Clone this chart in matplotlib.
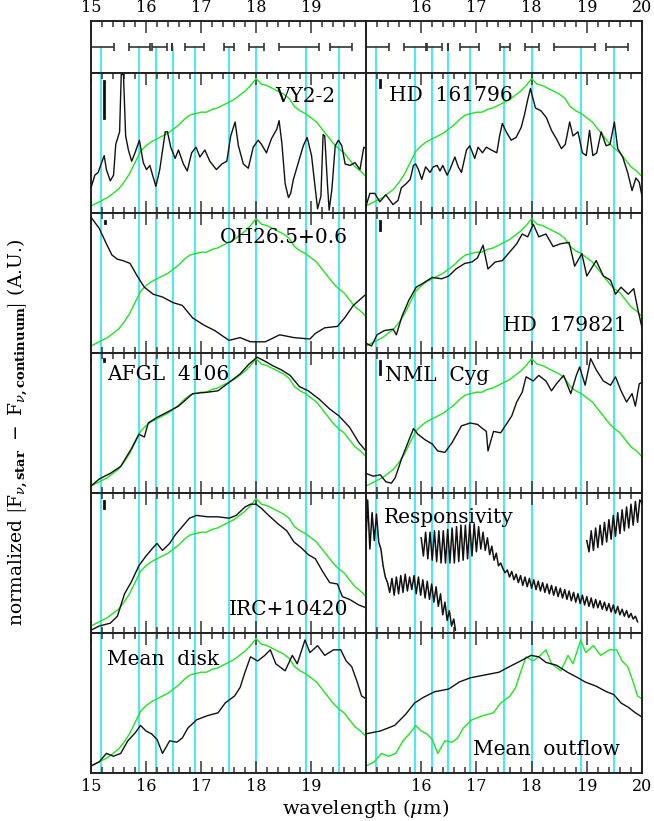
import matplotlib
matplotlib.use("Agg")
import matplotlib.pyplot as plt
import numpy as np

# --- feature positions (um) ---
FEATURE_WAVES = [15.18, 15.88, 16.19, 16.49, 16.89, 17.50, 18.00, 18.90, 19.50]
FEATURE_BANDS = [(14.98, 15.41), (15.69, 16.08), (16.10, 16.38), (16.48, 16.48),
                 (16.71, 17.05), (17.42, 17.60), (17.88, 18.14), (18.41, 19.15),
                 (19.34, 19.74)]

LEFT_TICKLABELS = ["15", "16", "17", "18", "19", ""]
RIGHT_TICKLABELS = ["", "16", "17", "18", "19", "20"]

# green comparison spectrum (same in most panels)
GREEN = [(15.0, 0.05), (15.1, 0.07), (15.2, 0.09), (15.3, 0.11), (15.4, 0.14),
         (15.5, 0.17), (15.6, 0.22), (15.7, 0.28), (15.8, 0.36), (15.9, 0.44),
         (16.0, 0.48), (16.1, 0.51), (16.2, 0.53), (16.3, 0.55), (16.4, 0.57),
         (16.5, 0.60), (16.6, 0.63), (16.7, 0.67), (16.8, 0.70), (16.9, 0.71),
         (17.0, 0.72), (17.1, 0.72), (17.2, 0.74), (17.3, 0.75), (17.4, 0.77),
         (17.5, 0.79), (17.6, 0.81), (17.7, 0.84), (17.8, 0.87), (17.9, 0.91),
         (18.0, 0.96), (18.1, 0.92), (18.2, 0.91), (18.3, 0.89), (18.4, 0.87),
         (18.5, 0.85), (18.6, 0.82), (18.7, 0.76), (18.8, 0.73), (18.9, 0.71),
         (19.0, 0.68), (19.1, 0.65), (19.2, 0.60), (19.3, 0.55), (19.4, 0.50),
         (19.5, 0.46), (19.6, 0.43), (19.7, 0.38), (19.8, 0.33), (19.9, 0.30),
         (20.0, 0.26)]

VY22 = [(15.00, 0.18), (15.07, 0.27), (15.13, 0.29), (15.24, 0.41), (15.28, 0.31),
        (15.35, 0.23), (15.41, 0.27), (15.45, 0.49), (15.52, 0.58), (15.55, 0.99),
        (15.59, 0.99), (15.63, 0.55), (15.68, 0.45), (15.74, 0.37), (15.80, 0.43),
        (15.88, 0.52), (15.95, 0.36), (16.01, 0.31), (16.07, 0.34), (16.12, 0.27),
        (16.18, 0.19), (16.25, 0.31), (16.35, 0.58), (16.39, 0.58), (16.45, 0.47),
        (16.53, 0.39), (16.59, 0.45), (16.68, 0.35), (16.75, 0.30), (16.83, 0.43),
        (16.91, 0.47), (16.98, 0.40), (17.07, 0.45), (17.16, 0.37), (17.28, 0.31),
        (17.38, 0.35), (17.47, 0.37), (17.54, 0.55), (17.62, 0.65), (17.68, 0.48),
        (17.77, 0.35), (17.86, 0.32), (17.95, 0.47), (18.04, 0.52), (18.10, 0.49),
        (18.19, 0.43), (18.28, 0.53), (18.38, 0.60), (18.42, 0.66), (18.47, 0.50),
        (18.53, 0.21), (18.59, 0.11), (18.63, 0.14), (18.68, 0.24), (18.77, 0.36),
        (18.86, 0.48), (18.93, 0.54), (19.01, 0.41), (19.07, 0.20), (19.12, 0.03),
        (19.18, 0.12), (19.22, 0.56), (19.25, 0.55), (19.30, 0.20), (19.33, 0.02),
        (19.38, 0.17), (19.44, 0.48), (19.50, 0.52), (19.56, 0.48), (19.62, 0.35),
        (19.71, 0.34), (19.80, 0.36), (19.89, 0.31), (19.96, 0.47), (20.00, 0.46)]

HD161796 = [(15.00, 0.05), (15.07, 0.14), (15.16, 0.14), (15.25, 0.08), (15.36, 0.13),
            (15.49, 0.06), (15.58, 0.09), (15.64, 0.18), (15.73, 0.21), (15.80, 0.24),
            (15.86, 0.34), (15.90, 0.35), (15.95, 0.31), (16.01, 0.24), (16.08, 0.33),
            (16.16, 0.29), (16.22, 0.33), (16.29, 0.34), (16.34, 0.30), (16.39, 0.34),
            (16.47, 0.27), (16.52, 0.31), (16.61, 0.40), (16.67, 0.33), (16.73, 0.29),
            (16.82, 0.45), (16.88, 0.48), (16.97, 0.39), (17.03, 0.47), (17.11, 0.43),
            (17.18, 0.47), (17.27, 0.45), (17.37, 0.43), (17.42, 0.55), (17.47, 0.64),
            (17.54, 0.58), (17.63, 0.52), (17.72, 0.54), (17.81, 0.61), (17.87, 0.70),
            (17.93, 0.81), (17.98, 0.89), (18.01, 0.84), (18.07, 0.75), (18.17, 0.73),
            (18.27, 0.68), (18.36, 0.59), (18.45, 0.53), (18.54, 0.46), (18.61, 0.49),
            (18.69, 0.65), (18.75, 0.55), (18.84, 0.58), (18.92, 0.43), (18.99, 0.41),
            (19.05, 0.59), (19.11, 0.41), (19.18, 0.43), (19.26, 0.58), (19.35, 0.48),
            (19.42, 0.49), (19.50, 0.65), (19.56, 0.46), (19.65, 0.40), (19.74, 0.29),
            (19.82, 0.16), (19.89, 0.25), (19.95, 0.22), (20.00, 0.12)]

OH265 = [(15.00, 0.97), (15.15, 0.89), (15.28, 0.78), (15.38, 0.70), (15.48, 0.67),
         (15.58, 0.66), (15.71, 0.64), (15.84, 0.55), (15.97, 0.47), (16.13, 0.42),
         (16.30, 0.40), (16.49, 0.36), (16.66, 0.34), (16.85, 0.25), (17.05, 0.20),
         (17.25, 0.16), (17.51, 0.09), (17.71, 0.11), (17.90, 0.08), (18.17, 0.08),
         (18.43, 0.13), (18.69, 0.11), (18.98, 0.10), (19.08, 0.14), (19.25, 0.18),
         (19.48, 0.19), (19.61, 0.25), (19.77, 0.34), (20.00, 0.42)]

HD179821 = [(15.00, 0.07), (15.10, 0.05), (15.20, 0.13), (15.33, 0.16), (15.49, 0.17),
            (15.55, 0.13), (15.65, 0.26), (15.78, 0.38), (15.91, 0.47), (16.04, 0.50),
            (16.20, 0.54), (16.37, 0.53), (16.50, 0.55), (16.63, 0.60), (16.79, 0.64),
            (16.92, 0.65), (17.02, 0.68), (17.12, 0.77), (17.21, 0.60), (17.34, 0.65),
            (17.47, 0.66), (17.60, 0.72), (17.73, 0.78), (17.83, 0.85), (17.93, 0.83),
            (18.03, 0.92), (18.13, 0.83), (18.26, 0.85), (18.39, 0.76), (18.52, 0.78),
            (18.68, 0.79), (18.78, 0.62), (18.91, 0.71), (19.00, 0.55), (19.17, 0.66),
            (19.30, 0.55), (19.43, 0.52), (19.52, 0.42), (19.62, 0.47), (19.75, 0.42),
            (19.85, 0.46), (19.92, 0.32), (20.00, 0.18)]

AFGL4106 = [(15.00, 0.05), (15.15, 0.10), (15.35, 0.14), (15.54, 0.19), (15.74, 0.32),
            (15.87, 0.42), (15.97, 0.40), (16.04, 0.50), (16.20, 0.54), (16.40, 0.58),
            (16.59, 0.62), (16.85, 0.71), (17.12, 0.72), (17.31, 0.73), (17.51, 0.79),
            (17.71, 0.85), (17.87, 0.92), (18.02, 0.97), (18.17, 0.94), (18.30, 0.91),
            (18.46, 0.88), (18.62, 0.84), (18.79, 0.76), (18.95, 0.73), (19.15, 0.67),
            (19.34, 0.60), (19.51, 0.55), (19.70, 0.47), (19.87, 0.36), (20.00, 0.30)]

NMLCYG = [(15.00, 0.14), (15.13, 0.12), (15.26, 0.13), (15.36, 0.08), (15.46, 0.07),
          (15.53, 0.11), (15.65, 0.25), (15.75, 0.35), (15.86, 0.46), (15.94, 0.42),
          (16.07, 0.38), (16.20, 0.35), (16.30, 0.30), (16.43, 0.29), (16.56, 0.36),
          (16.73, 0.48), (16.89, 0.50), (17.02, 0.49), (17.08, 0.47), (17.18, 0.44),
          (17.21, 0.30), (17.31, 0.44), (17.44, 0.43), (17.54, 0.49), (17.64, 0.55),
          (17.73, 0.65), (17.83, 0.72), (17.90, 0.83), (18.03, 0.80), (18.13, 0.84),
          (18.26, 0.80), (18.36, 0.73), (18.45, 0.78), (18.58, 0.84), (18.71, 0.71),
          (18.81, 0.84), (18.87, 0.90), (18.97, 0.77), (19.07, 0.96), (19.17, 0.88),
          (19.30, 0.80), (19.43, 0.77), (19.52, 0.83), (19.62, 0.73), (19.72, 0.65),
          (19.82, 0.71), (19.88, 0.62), (19.95, 0.78), (20.00, 0.79)]

IRC10420 = [(15.00, 0.02), (15.15, 0.05), (15.35, 0.07), (15.48, 0.12), (15.61, 0.28),
            (15.74, 0.37), (15.87, 0.48), (16.00, 0.55), (16.13, 0.61), (16.20, 0.64),
            (16.30, 0.59), (16.43, 0.64), (16.53, 0.70), (16.66, 0.76), (16.79, 0.82),
            (16.92, 0.84), (17.12, 0.83), (17.31, 0.83), (17.51, 0.82), (17.64, 0.84),
            (17.80, 0.90), (17.90, 0.92), (18.00, 0.92), (18.10, 0.89), (18.23, 0.84),
            (18.40, 0.78), (18.56, 0.73), (18.69, 0.65), (18.82, 0.61), (18.95, 0.56),
            (19.08, 0.53), (19.21, 0.44), (19.34, 0.36), (19.48, 0.35), (19.57, 0.26),
            (19.70, 0.24), (19.87, 0.20), (20.00, 0.18)]

MEAN_DISK = [(15.00, 0.05), (15.15, 0.08), (15.28, 0.14), (15.41, 0.12), (15.54, 0.14),
             (15.67, 0.23), (15.81, 0.29), (15.90, 0.34), (16.00, 0.30), (16.10, 0.28),
             (16.20, 0.24), (16.30, 0.14), (16.43, 0.23), (16.56, 0.22), (16.66, 0.25),
             (16.76, 0.32), (16.92, 0.38), (17.12, 0.41), (17.31, 0.43), (17.44, 0.50),
             (17.61, 0.55), (17.71, 0.61), (17.80, 0.72), (17.90, 0.83), (18.03, 0.80),
             (18.16, 0.84), (18.26, 0.88), (18.36, 0.78), (18.53, 0.73), (18.66, 0.84),
             (18.75, 0.78), (18.89, 0.95), (18.98, 0.86), (19.12, 0.91), (19.25, 0.84),
             (19.41, 0.88), (19.54, 0.88), (19.64, 0.80), (19.74, 0.76), (19.84, 0.65),
             (19.92, 0.55), (20.00, 0.53)]

MEAN_OUTFLOW = [(15.00, 0.28), (15.26, 0.30), (15.52, 0.34), (15.72, 0.42), (15.88, 0.50),
                (16.04, 0.54), (16.24, 0.58), (16.50, 0.60), (16.69, 0.65), (16.89, 0.68),
                (17.15, 0.70), (17.41, 0.72), (17.60, 0.76), (17.80, 0.80), (17.99, 0.84),
                (18.13, 0.83), (18.26, 0.79), (18.45, 0.77), (18.65, 0.72), (18.84, 0.68),
                (18.97, 0.65), (19.17, 0.62), (19.36, 0.58), (19.49, 0.56), (19.62, 0.50),
                (19.75, 0.47), (19.88, 0.43), (20.00, 0.40)]

# responsivity: three detector segments with fringes
RESP_A = [(15.00, 0.67), (15.03, 0.95), (15.07, 0.60), (15.11, 0.86), (15.15, 0.66),
          (15.19, 0.85), (15.23, 0.65), (15.27, 0.60), (15.31, 0.48), (15.35, 0.40),
          (15.39, 0.36), (15.43, 0.29), (15.47, 0.39), (15.51, 0.27), (15.55, 0.40),
          (15.59, 0.28), (15.63, 0.41), (15.67, 0.29), (15.71, 0.42), (15.75, 0.30),
          (15.79, 0.40), (15.83, 0.31), (15.87, 0.41), (15.91, 0.28), (15.95, 0.40),
          (15.99, 0.27), (16.03, 0.38), (16.07, 0.25), (16.11, 0.37), (16.15, 0.24),
          (16.19, 0.35), (16.23, 0.22), (16.27, 0.33), (16.31, 0.19), (16.35, 0.28),
          (16.39, 0.13), (16.43, 0.22), (16.47, 0.09), (16.51, 0.16), (16.55, 0.05),
          (16.59, 0.10), (16.62, 0.02)]

RESP_B = [(16.00, 0.68), (16.04, 0.55), (16.08, 0.72), (16.12, 0.53), (16.16, 0.72),
          (16.20, 0.52), (16.24, 0.73), (16.28, 0.51), (16.32, 0.73), (16.36, 0.50),
          (16.40, 0.73), (16.44, 0.50), (16.48, 0.74), (16.52, 0.50), (16.56, 0.75),
          (16.60, 0.50), (16.64, 0.76), (16.68, 0.51), (16.72, 0.77), (16.76, 0.52),
          (16.80, 0.77), (16.84, 0.53), (16.88, 0.78), (16.92, 0.55), (16.96, 0.78),
          (17.00, 0.58), (17.04, 0.76), (17.08, 0.60), (17.12, 0.72), (17.16, 0.59),
          (17.20, 0.68), (17.24, 0.56), (17.28, 0.62), (17.32, 0.52), (17.36, 0.57),
          (17.40, 0.48), (17.44, 0.50), (17.48, 0.46), (17.52, 0.43), (17.56, 0.45),
          (17.60, 0.40), (17.64, 0.44), (17.68, 0.38), (17.72, 0.42), (17.76, 0.36),
          (17.80, 0.41), (17.84, 0.34), (17.88, 0.40), (17.92, 0.33), (17.96, 0.39),
          (18.00, 0.32), (18.04, 0.38), (18.08, 0.31), (18.12, 0.37), (18.16, 0.30),
          (18.20, 0.36), (18.24, 0.29), (18.28, 0.35), (18.32, 0.28), (18.36, 0.34),
          (18.40, 0.27), (18.44, 0.33), (18.48, 0.26), (18.52, 0.32), (18.56, 0.25),
          (18.60, 0.31), (18.64, 0.24), (18.68, 0.30), (18.72, 0.23), (18.76, 0.29),
          (18.80, 0.22), (18.84, 0.28), (18.88, 0.21), (18.92, 0.27), (18.96, 0.20),
          (19.00, 0.26), (19.04, 0.19), (19.08, 0.25), (19.12, 0.18), (19.16, 0.24),
          (19.20, 0.18), (19.24, 0.23), (19.28, 0.17), (19.32, 0.22), (19.36, 0.16),
          (19.40, 0.21), (19.44, 0.15), (19.48, 0.20), (19.52, 0.14), (19.56, 0.19),
          (19.60, 0.13), (19.64, 0.17), (19.68, 0.12), (19.72, 0.16), (19.76, 0.11),
          (19.80, 0.14), (19.84, 0.10), (19.88, 0.12), (19.92, 0.08)]

RESP_C = [(19.00, 0.66), (19.04, 0.58), (19.08, 0.73), (19.12, 0.59), (19.16, 0.75),
          (19.20, 0.61), (19.24, 0.77), (19.28, 0.63), (19.32, 0.79), (19.36, 0.65),
          (19.40, 0.81), (19.44, 0.67), (19.48, 0.84), (19.52, 0.69), (19.56, 0.86),
          (19.60, 0.71), (19.64, 0.88), (19.68, 0.73), (19.72, 0.90), (19.76, 0.75),
          (19.80, 0.92), (19.84, 0.77), (19.88, 0.94), (19.92, 0.79), (19.96, 0.95),
          (20.00, 0.93)]

# typical error bar shown in each panel: (wavelength, low, high)
ERRBARS = {
    "VY2-2": (15.24, 0.68, 0.945),
    "HD  161796": (15.25, 0.90, 0.95),
    "OH26.5+0.6": (15.25, 0.925, 0.94),
    "HD  179821": (15.26, 0.88, 0.94),
    "AFGL  4106": (15.24, 0.94, 0.96),
    "NML  Cyg": (15.25, 0.85, 0.94),
    "IRC+10420": (15.24, 0.89, 0.94),
}

CYAN = "#33e8ff"
LIME = "#1ee61e"

plt.rcParams["font.family"] = ["DejaVu Serif"]
plt.rcParams["mathtext.fontset"] = "dejavuserif"


def xy(pairs):
    arr = np.array(pairs)
    return arr[:, 0], arr[:, 1]


def style_axis(ax, labels, top_labels=False, bottom_labels=False,
               top_ticks=True, bottom_ticks=True):
    ax.set_xlim(15, 20)
    ax.set_ylim(0, 1)
    ax.set_yticks([])
    ax.set_xticks([15, 16, 17, 18, 19, 20])
    ax.set_xticklabels(labels)
    ax.xaxis.set_minor_locator(matplotlib.ticker.MultipleLocator(0.2))
    ax.tick_params(axis="x", which="both", direction="in", top=top_ticks,
                   bottom=bottom_ticks, labeltop=top_labels,
                   labelbottom=bottom_labels, color="#333333", width=1.1,
                   labelsize=11.5, pad=3.5)
    ax.tick_params(axis="x", which="major", length=8.5)
    ax.tick_params(axis="x", which="minor", length=4.3)
    for sp in ax.spines.values():
        sp.set_linewidth(1.4)
        sp.set_color("#222222")


def main():
    fig = plt.figure(figsize=(6.54, 8.21), dpi=100)
    W, H = 654.0, 821.0
    col_x = [91 / W, 366 / W]
    col_w = [275 / W, 276 / W]
    ticklabels = [LEFT_TICKLABELS, RIGHT_TICKLABELS]

    # top strip with the feature bands
    for c in range(2):
        ax = fig.add_axes([col_x[c], 1 - 73 / H, col_w[c], 52 / H])
        style_axis(ax, ticklabels[c], top_labels=True, bottom_ticks=False)
        for w in FEATURE_WAVES:
            ax.axvline(w, ymin=0, ymax=0.5, color=CYAN, lw=1.3, zorder=1)
        lo = [b[0] for b in FEATURE_BANDS]
        hi = [b[1] for b in FEATURE_BANDS]
        ax.hlines([0.5] * len(lo), lo, hi, color="#333333", lw=1.2, zorder=2)
        ax.vlines(lo + hi, 0.42, 0.58, color="#333333", lw=1.2, zorder=2)

    panels = [
        (0, 0, "VY2-2", VY22, GREEN, (0.67, 0.795)),
        (1, 0, "HD  161796", HD161796, GREEN, (0.085, 0.80)),
        (0, 1, "OH26.5+0.6", OH265, GREEN, (0.47, 0.784)),
        (1, 1, "HD  179821", HD179821, GREEN, (0.495, 0.16)),
        (0, 2, "AFGL  4106", AFGL4106, GREEN, (0.058, 0.81)),
        (1, 2, "NML  Cyg", NMLCYG, GREEN, (0.068, 0.80)),
        (0, 3, "IRC+10420", IRC10420, GREEN, (0.50, 0.127)),
        (1, 3, "Responsivity", None, None, (0.063, 0.785)),
        (0, 4, "Mean  disk", MEAN_DISK, GREEN, (0.059, 0.775)),
        (1, 4, "Mean  outflow", MEAN_OUTFLOW, MEAN_DISK, (0.388, 0.127)),
    ]

    for c, r, name, black, green, (tx, ty) in panels:
        top_px = 73 + 140 * r
        ax = fig.add_axes([col_x[c], 1 - (top_px + 140) / H, col_w[c], 140 / H])
        style_axis(ax, ticklabels[c], bottom_labels=(r == 4))
        for w in FEATURE_WAVES:
            ax.axvline(w, color=CYAN, lw=1.3, zorder=1)
        if black is None:
            for seg in (RESP_A, RESP_B, RESP_C):
                x, y = xy(seg)
                ax.plot(x, y, color="#111111", lw=1.1, zorder=3)
        else:
            x, y = xy(green)
            ax.plot(x, y, color=LIME, lw=1.0, zorder=2)
            x, y = xy(black)
            ax.plot(x, y, color="#111111", lw=1.0, zorder=3)
        if name in ERRBARS:
            w, lo, hi = ERRBARS[name]
            ax.plot([w, w], [lo, hi], color="#111111", lw=2.0, zorder=4)
        ax.text(tx, ty, name, transform=ax.transAxes, fontsize=14.5,
                ha="left", va="baseline", zorder=5)

    fig.text(366 / W, 1 - 808 / H, r"wavelength ($\mu$m)", ha="center",
             va="center", fontsize=14)
    fig.text(18 / W, 1 - 432 / H,
             r"normalized $\left[\mathrm{F}_{\nu\mathbf{,star}}\ -\ "
             r"\mathrm{F}_{\nu\mathbf{,continuum}}\right]$ (A.U.)",
             ha="center", va="center", rotation=90, fontsize=13.5)

    fig.savefig("out.png", dpi=100)


if __name__ == "__main__":
    main()
